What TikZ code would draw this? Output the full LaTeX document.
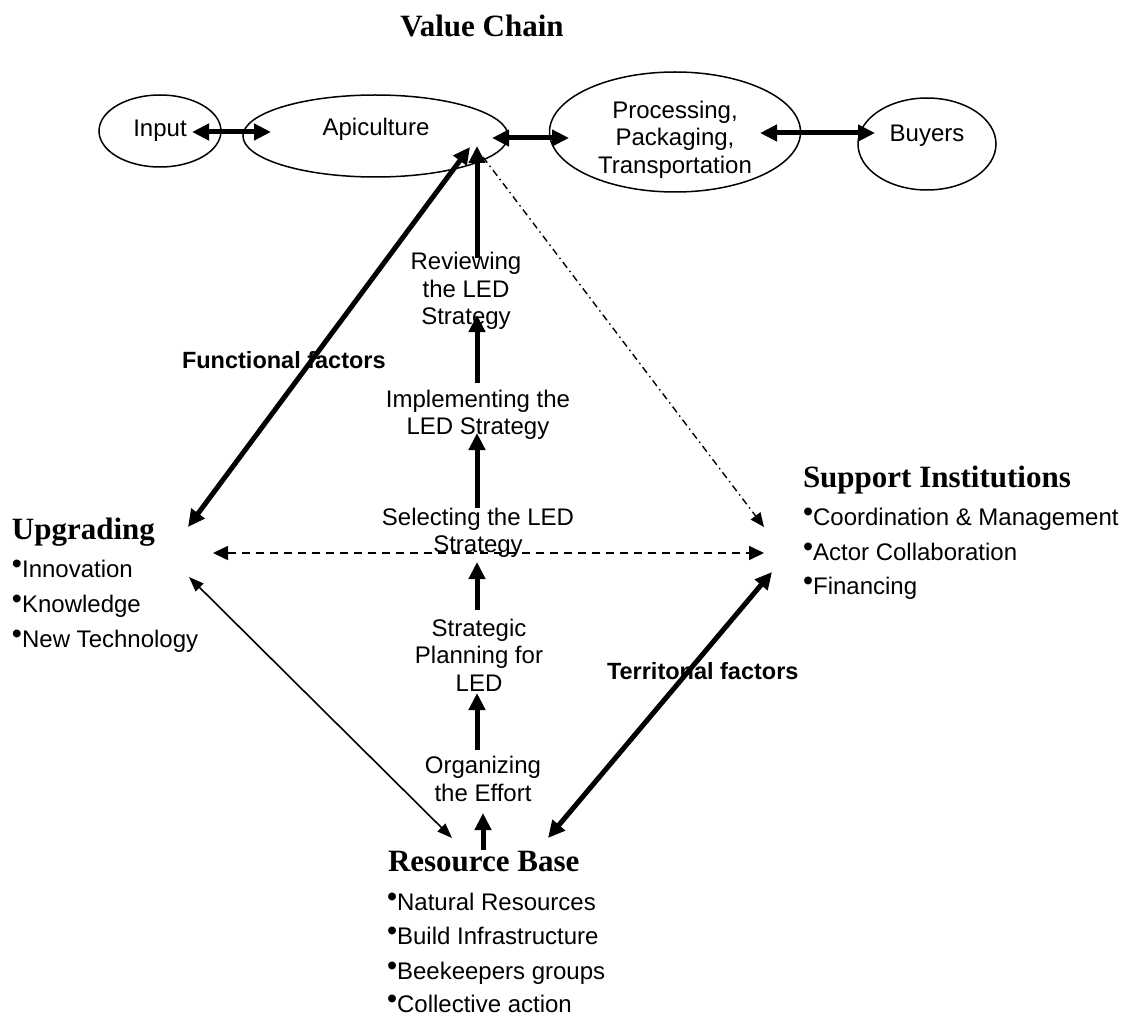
\documentclass[tikz,border=0pt]{standalone}
\usepackage{fontspec}
\setmainfont{Liberation Sans}
\newfontfamily\headfont{Liberation Serif}
\usetikzlibrary{arrows.meta,shapes.geometric}
\newcommand{\blt}{\raisebox{4pt}{\scalebox{1.2}{\textbullet}}}
\begin{document}
\begin{tikzpicture}[x=1pt,y=-1pt,
  every node/.style={inner sep=0pt,outer sep=0pt},
  oval/.style={draw,ellipse,line width=1.5pt},
  body/.style={font=\fontsize{24}{27.5}\selectfont,align=center},
  item/.style={font=\fontsize{24}{27.5}\selectfont,anchor=base west},
  heading/.style={font=\headfont\bfseries\fontsize{31}{36}\selectfont,anchor=base west},
  factor/.style={font=\bfseries\fontsize{23.5}{27}\selectfont,anchor=base west},
  bigarrow/.style={line width=5pt,-{Triangle[length=17pt,width=16pt]}},
  bigdouble/.style={line width=5pt,{Triangle[length=17pt,width=16pt]}-{Triangle[length=17pt,width=16pt]}},
  thindouble/.style={line width=1.6pt,{Triangle[length=15pt,width=11pt]}-{Triangle[length=15pt,width=11pt]}},
  dashdouble/.style={line width=1.6pt,dash pattern=on 8pt off 6pt,{Triangle[length=15pt,width=14pt]}-{Triangle[length=15pt,width=14pt]}},
  dashdotarrow/.style={line width=1.4pt,dash pattern=on 7pt off 4pt on 1.5pt off 4pt,-{Triangle[length=14pt,width=12pt]}}
]
\useasboundingbox (0,0) rectangle (1129,1016);

% title
\node[font=\headfont\bfseries\fontsize{31}{36}\selectfont,anchor=base] (title) at (482,37) {Value Chain};

% value chain ovals
\node[oval,minimum width=122pt,minimum height=72pt] (input) at (160,131) {};
\node[oval,minimum width=265pt,minimum height=82pt] (apic) at (375.5,136) {};
\node[oval,minimum width=251pt,minimum height=120pt] (proc) at (675,132) {};
\node[oval,minimum width=138pt,minimum height=92pt] (buyers) at (927,144) {};
\node[body,anchor=base] (tinput) at (160,137) {Input};
\node[body,anchor=base] (tapic) at (376,136) {Apiculture};
\node[body] (tproc) at (675,139.5) {Processing,\\Packaging,\\Transportation};
\node[body,anchor=base] (tbuyers) at (927,142) {Buyers};

% LED steps
\node[body] (review) at (466,291) {Reviewing\\the LED\\Strategy};
\node[body] (implement) at (478,415) {Implementing the\\LED Strategy};
\node[body] (select) at (478,533) {Selecting the LED\\Strategy};
\node[body] (plan) at (479,655) {Strategic\\Planning for\\LED};
\node[body] (organize) at (483,779) {Organizing\\the Effort};

% headings and lists
\node[heading] (upgrading) at (12,539) {Upgrading};
\node[item] (up1) at (12,577) {\blt Innovation};
\node[item] (up2) at (12,612) {\blt Knowledge};
\node[item] (up3) at (12,647) {\blt New Technology};

\node[heading] (support) at (803,487) {Support Institutions};
\node[item] (su1) at (803,525) {\blt Coordination \& Management};
\node[item] (su2) at (803,560) {\blt Actor Collaboration};
\node[item] (su3) at (803,594) {\blt Financing};

\node[heading] (resource) at (388,871) {Resource Base};
\node[item] (re1) at (387,910) {\blt Natural Resources};
\node[item] (re2) at (387,944.5) {\blt Build Infrastructure};
\node[item] (re3) at (387,979) {\blt Beekeepers groups};
\node[item] (re4) at (387,1012) {\blt Collective action};

% factor labels
\node[factor] (functional) at (182,368) {Functional factors};
\node[factor] (territorial) at (607,679) {Territonal factors};

% connector end points
\coordinate (inR) at (192,132);   \coordinate (apL) at (271,132);
\coordinate (apR) at (492,138);   \coordinate (prL) at (569,138);
\coordinate (prR) at (760,133);   \coordinate (buL) at (875,133);
\coordinate (apBotL) at (470,147); \coordinate (apBotC) at (477,146);
\coordinate (apBotR) at (483,157);
\coordinate (upTop) at (188,527); \coordinate (upMid) at (213,553);
\coordinate (upLow) at (189,577);
\coordinate (suTop) at (764,527); \coordinate (suMid) at (764,553);
\coordinate (suLow) at (772,572);
\coordinate (reL) at (452,838);   \coordinate (reR) at (548,838);
\coordinate (reTop) at (483,850);

% value chain links
\draw[bigdouble] (inR) -- (apL);
\draw[bigdouble] (apR) -- (prL);
\draw[bigdouble] (prR) -- (buL);

% LED step arrows
\draw[bigarrow] (477,258) -- (apBotC);
\draw[bigarrow] (477,383) -- (477,315);
\draw[bigarrow] (477,508) -- (477,433);
\draw[bigarrow] (477,610) -- (477,562);
\draw[bigarrow] (477,750) -- (477,693);
\draw[bigarrow] (reTop) -- (483,813);

% factor links
\draw[bigdouble] (upTop) -- (apBotL);
\draw[dashdotarrow] (apBotR) -- (suTop);
\draw[dashdouble] (upMid) -- (suMid);
\draw[bigdouble] (reR) -- (suLow);
\draw[thindouble] (upLow) -- (reL);
\end{tikzpicture}
\end{document}
